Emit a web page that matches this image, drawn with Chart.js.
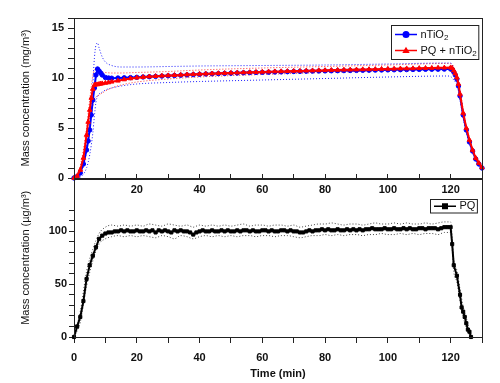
<!DOCTYPE html>
<html>
<head>
<meta charset="utf-8">
<script src="https://cdn.jsdelivr.net/npm/chart.js@4"></script>
<style>
  html, body { margin: 0; padding: 0; background: #fff; }
  .panel { position: absolute; left: 0; width: 500px; }
  #topPanel { top: 0; height: 200px; }
  #bottomPanel { top: 170px; height: 213px; }
</style>
</head>
<body>
<div class="panel" id="topPanel"><canvas id="topChart"></canvas></div>
<div class="panel" id="bottomPanel"><canvas id="bottomChart"></canvas></div>
<script>
// Top panel: nTiO2 and PQ + nTiO2 (mg/m3)
const TOP_TIME = [
  0, 1, 2, 3, 4,
  4.5, 5, 5.5, 6, 6.5, 7, 7.5, 8, 8.5, 9,
  10, 11, 12,
  14, 16, 18, 20, 22, 24, 26, 28, 30, 32,
  34, 36, 38, 40, 42, 44, 46, 48, 50, 52,
  54, 56, 58, 60, 62, 64, 66, 68, 70, 72,
  74, 76, 78, 80, 82, 84, 86, 88, 90, 92,
  94, 96, 98, 100, 102, 104, 106, 108, 110, 112,
  114, 116, 118, 120,
  120.5, 121, 121.5, 122, 122.5, 123, 124, 125, 126, 127, 128, 129, 130
];
const NTIO2 = [
  0, 0.15, 0.5, 1.4, 2.8,
  3.7, 4.8, 6.3, 7.8, 9.0, 10.3, 10.9, 10.7, 10.5, 10.3,
  10.05, 10.0, 9.98,
  10.0, 10.02, 10.04, 10.07, 10.1, 10.13, 10.16, 10.19, 10.22, 10.25,
  10.28, 10.31, 10.34, 10.37, 10.4, 10.42, 10.44, 10.46, 10.48, 10.5,
  10.52, 10.54, 10.56, 10.57, 10.58, 10.6, 10.61, 10.63, 10.65, 10.66,
  10.68, 10.69, 10.7, 10.71, 10.72, 10.73, 10.74, 10.75, 10.76, 10.77,
  10.78, 10.79, 10.8, 10.81, 10.82, 10.83, 10.84, 10.85, 10.86, 10.87,
  10.87, 10.88, 10.89, 10.9,
  10.85, 10.6, 10.3, 9.9, 9.2, 8.2, 6.3, 4.8, 3.6, 2.7, 1.9, 1.4, 1.0
];
const PQ_NTIO2 = [
  0, 0.2, 0.8, 2.0, 4.3,
  5.6, 6.8, 8.0, 8.9, 9.3, 9.35, 9.35, 9.4, 9.42, 9.45,
  9.5, 9.55, 9.62,
  9.72, 9.85, 9.95, 10.03, 10.09, 10.14, 10.18, 10.22, 10.25, 10.28,
  10.31, 10.34, 10.37, 10.4, 10.42, 10.44, 10.47, 10.49, 10.51, 10.53,
  10.55, 10.57, 10.59, 10.61, 10.63, 10.65, 10.66, 10.68, 10.7, 10.71,
  10.73, 10.74, 10.76, 10.77, 10.79, 10.8, 10.82, 10.83, 10.84, 10.86,
  10.87, 10.88, 10.9, 10.91, 10.92, 10.94, 10.95, 10.96, 10.98, 10.99,
  11.0, 11.02, 11.03, 11.05,
  11.0, 10.75, 10.45, 10.05, 9.4, 8.4, 6.5, 5.0, 3.8, 2.8, 2.0, 1.5, 1.05
];

// dotted spread lines around each mean
const BAND_TIME = [0, 2, 4, 5, 6, 6.5, 7, 7.5, 8, 9, 10, 12, 15, 20, 30, 40, 60, 80, 100, 119, 120, 121, 122, 123, 124, 125, 126, 127, 128, 129, 130];
const NTIO2_HI = [0, 0.6, 3.2, 5.8, 9.5, 12.0, 13.3, 13.5, 13.0, 12.1, 11.6, 11.25, 11.1, 11.1, 11.15, 11.2, 11.25, 11.3, 11.4, 11.5, 11.5, 11.0, 10.1, 8.5, 6.6, 5.0, 3.8, 2.8, 2.0, 1.5, 1.05];
const NTIO2_LO = [0, 0.1, 1.0, 2.3, 4.5, 6.2, 7.6, 8.2, 8.4, 8.6, 8.8, 9.0, 9.2, 9.4, 9.55, 9.65, 9.8, 9.95, 10.1, 10.2, 10.15, 9.8, 9.3, 7.8, 6.0, 4.6, 3.4, 2.5, 1.8, 1.3, 0.9];
const PQ_NTIO2_HI = [0, 1.2, 5.0, 7.8, 10.2, 10.8, 10.9, 10.8, 10.7, 10.6, 10.55, 10.5, 10.5, 10.55, 10.65, 10.8, 11.0, 11.15, 11.3, 11.45, 11.45, 11.1, 10.3, 8.8, 6.9, 5.2, 4.0, 3.0, 2.2, 1.6, 1.15];
const PQ_NTIO2_LO = [0, 0.3, 2.6, 5.0, 7.2, 7.9, 8.1, 8.2, 8.3, 8.5, 8.7, 9.0, 9.3, 9.6, 9.9, 10.1, 10.35, 10.55, 10.75, 10.9, 10.85, 10.4, 9.6, 8.0, 6.2, 4.7, 3.6, 2.6, 1.9, 1.35, 0.95];

// Bottom panel: PQ (ug/m3)
const PQ_TIME = [
  0, 1, 2, 3, 4, 5, 6, 7, 8, 9, 10,
  11, 12, 13, 14, 15, 16, 17, 18, 19, 20,
  21, 22, 23, 24, 25, 26, 27, 28, 29, 30,
  31, 32, 33, 34, 35, 36, 37, 38, 39, 40,
  41, 42, 43, 44, 45, 46, 47, 48, 49, 50,
  51, 52, 53, 54, 55, 56, 57, 58, 59, 60,
  61, 62, 63, 64, 65, 66, 67, 68, 69, 70,
  71, 72, 73, 74, 75, 76, 77, 78, 79, 80,
  81, 82, 83, 84, 85, 86, 87, 88, 89, 90,
  91, 92, 93, 94, 95, 96, 97, 98, 99, 100,
  101, 102, 103, 104, 105, 106, 107, 108, 109, 110,
  111, 112, 113, 114, 115, 116, 117, 118, 119, 120,
  120.5, 121, 122, 123, 123.5, 124, 124.5, 125, 125.5, 126, 126.5
];
const PQ = [
  0, 10, 19, 34, 55, 68, 77, 85, 93, 96, 98,
  99, 99, 100, 100, 101, 100, 101, 100, 100, 101,
  100, 100, 101, 100, 101, 99, 101, 100, 101, 100,
  99, 101, 100, 101, 100, 100, 99, 97, 99, 100,
  101, 100, 100, 101, 100, 100, 101, 100, 101, 100,
  100, 101, 100, 101, 101, 100, 101, 100, 100, 101,
  101, 100, 101, 100, 100, 101, 101, 100, 101, 100,
  100, 99, 99, 100, 101, 100, 101, 101, 102, 101,
  102, 101, 101, 102, 101, 101, 102, 101, 102, 101,
  102, 101, 102, 102, 103, 102, 102, 102, 103, 102,
  102, 103, 102, 102, 103, 102, 103, 102, 102, 103,
  103, 102, 103, 103, 103, 102, 103, 104, 104, 104,
  88, 68, 58, 40, 28, 24, 19, 13, 7, 5, 0
];
const PQ_BAND_TIME = [
  0, 2, 4, 6, 8, 10, 12, 14, 16, 18, 20,
  22, 24, 26, 28, 30, 32, 34, 36, 38, 40,
  42, 44, 46, 48, 50, 52, 54, 56, 58, 60,
  62, 64, 66, 68, 70, 72, 74, 76, 78, 80,
  82, 84, 86, 88, 90, 92, 94, 96, 98, 100,
  102, 104, 106, 108, 110, 112, 114, 116, 118, 120,
  121, 122, 123, 124, 125, 126, 127
];
const PQ_HI = [
  2, 24, 62, 83, 98, 104, 106, 105, 106, 105, 106,
  105, 107, 106, 105, 107, 106, 105, 106, 104, 106,
  105, 106, 105, 106, 105, 106, 107, 105, 106, 106,
  105, 106, 106, 105, 106, 104, 105, 106, 107, 107,
  108, 107, 106, 107, 107, 106, 107, 108, 107, 107,
  108, 107, 108, 107, 107, 108, 107, 108, 109, 109,
  73, 63, 45, 29, 18, 7, 1
];
const PQ_LO = [
  0, 14, 48, 72, 88, 93, 95, 96, 95, 96, 95,
  96, 95, 94, 96, 95, 93, 96, 95, 93, 95,
  96, 95, 96, 95, 96, 95, 96, 96, 95, 96,
  96, 95, 96, 96, 95, 94, 95, 96, 96, 97,
  96, 97, 96, 97, 97, 96, 97, 97, 98, 97,
  97, 98, 97, 98, 97, 98, 98, 97, 99, 99,
  62, 52, 34, 19, 9, 2, 0
];

const FONT = "'Liberation Sans', Arial, Helvetica, sans-serif";
const AXIS = "#222";
const TEXT = "#111";

const toPoints = (xs, ys) => xs.map((x, i) => ({ x, y: ys[i] }));

function meanLine(label, xs, ys, color, pointStyle, radius, order) {
  return {
    label,
    data: toPoints(xs, ys),
    borderColor: color,
    backgroundColor: color,
    borderWidth: 2,
    pointStyle,
    pointRadius: radius,
    pointBackgroundColor: color,
    pointBorderColor: color,
    pointBorderWidth: 1,
    tension: 0,
    clip: false,
    order
  };
}

function dottedLine(label, xs, ys, color) {
  return {
    label,
    data: toPoints(xs, ys),
    borderColor: color,
    borderWidth: 1,
    borderDash: [1, 2],
    pointRadius: 0,
    cubicInterpolationMode: "monotone",
    order: 5
  };
}

function drawMarker(ctx, style, x, y, r, color) {
  ctx.fillStyle = color;
  ctx.beginPath();
  if (style === "triangle") {
    ctx.moveTo(x, y - r * 1.1);
    ctx.lineTo(x + r * 1.05, y + r * 0.7);
    ctx.lineTo(x - r * 1.05, y + r * 0.7);
    ctx.closePath();
  } else if (style === "rect") {
    ctx.rect(x - r, y - r, r * 2, r * 2);
  } else {
    ctx.arc(x, y, r, 0, Math.PI * 2);
  }
  ctx.fill();
}

// the "2" in nTiO2 is drawn as a real subscript
function richWidth(ctx, text) {
  const parts = text.split("\u2082");
  let w = 0;
  parts.forEach((part, i) => {
    ctx.font = `11px ${FONT}`;
    w += ctx.measureText(part).width;
    if (i < parts.length - 1) {
      ctx.font = `8px ${FONT}`;
      w += ctx.measureText("2").width;
    }
  });
  return w;
}

function drawRich(ctx, text, x, y) {
  const parts = text.split("\u2082");
  ctx.fillStyle = TEXT;
  ctx.textBaseline = "middle";
  ctx.textAlign = "left";
  parts.forEach((part, i) => {
    ctx.font = `11px ${FONT}`;
    ctx.fillText(part, x, y);
    x += ctx.measureText(part).width;
    if (i < parts.length - 1) {
      ctx.font = `8px ${FONT}`;
      ctx.fillText("2", x, y + 3.5);
      x += ctx.measureText("2").width;
    }
  });
}

const framePlugin = {
  id: "frame",
  afterDraw(chart) {
    const { ctx, chartArea } = chart;
    ctx.save();
    ctx.strokeStyle = AXIS;
    ctx.lineWidth = 1;
    ctx.strokeRect(
      Math.round(chartArea.left) + 0.5,
      Math.round(chartArea.top) + 0.5,
      Math.round(chartArea.right - chartArea.left),
      Math.round(chartArea.bottom - chartArea.top)
    );
    ctx.restore();
  }
};

const boxLegend = {
  id: "boxLegend",
  afterDraw(chart, args, opts) {
    if (!opts.labels) return;
    const { ctx, chartArea } = chart;
    const items = opts.labels.map((label) => chart.data.datasets.find((d) => d.label === label));
    ctx.save();
    const lineLen = 22;
    const textW = Math.max(...items.map((d) => richWidth(ctx, d.label)));
    const boxW = 3.5 + lineLen + 3.5 + textW + 2;
    const boxH = items.length * opts.rowHeight + 2;
    const x0 = Math.round(chartArea.right - opts.right - boxW) + 0.5;
    const y0 = Math.round(chartArea.top + opts.top) + 0.5;
    ctx.fillStyle = "#fff";
    ctx.fillRect(x0, y0, boxW, boxH);
    ctx.strokeStyle = AXIS;
    ctx.lineWidth = 1;
    ctx.strokeRect(x0, y0, boxW, boxH);
    items.forEach((d, i) => {
      const cy = y0 + 1 + opts.rowHeight * (i + 0.5);
      const lx = x0 + 3.5;
      ctx.strokeStyle = d.borderColor;
      ctx.lineWidth = 1.5;
      ctx.beginPath();
      ctx.moveTo(lx, cy);
      ctx.lineTo(lx + lineLen, cy);
      ctx.stroke();
      drawMarker(ctx, d.pointStyle, lx + lineLen / 2, cy, opts.markerSize, d.borderColor);
      drawRich(ctx, d.label, lx + lineLen + 3.5, cy);
    });
    ctx.restore();
  }
};

const tickFont = { family: FONT, size: 11, weight: "bold" };
const titleFont = { family: FONT, size: 11 };

new Chart(document.getElementById("topChart"), {
  type: "line",
  data: {
    datasets: [
      meanLine("PQ + nTiO\u2082", TOP_TIME, PQ_NTIO2, "#ff0000", "triangle", 2.6, 0),
      meanLine("nTiO\u2082", TOP_TIME, NTIO2, "#0000ff", "circle", 2.2, 1),
      dottedLine("nTiO2 high", BAND_TIME, NTIO2_HI, "#1a1aff"),
      dottedLine("nTiO2 low", BAND_TIME, NTIO2_LO, "#1a1aff"),
      dottedLine("PQ + nTiO2 high", BAND_TIME, PQ_NTIO2_HI, "#ff3030"),
      dottedLine("PQ + nTiO2 low", BAND_TIME, PQ_NTIO2_LO, "#ff3030")
    ]
  },
  options: {
    responsive: true,
    maintainAspectRatio: false,
    animation: false,
    events: [],
    layout: { padding: { top: 18, right: 18, bottom: 0, left: 0 } },
    plugins: {
      legend: { display: false },
      tooltip: { enabled: false },
      boxLegend: { labels: ["nTiO\u2082", "PQ + nTiO\u2082"], rowHeight: 16, right: 4, top: 7, markerSize: 3.5 }
    },
    scales: {
      x: {
        type: "linear",
        min: 0,
        max: 130,
        border: { color: AXIS },
        // ticks on this axis point up into the plot
        grid: { drawOnChartArea: false, tickLength: -4, tickColor: AXIS },
        ticks: {
          stepSize: 10,
          autoSkip: false,
          maxRotation: 0,
          padding: 9,
          color: TEXT,
          font: tickFont,
          callback: (v) => (v > 0 && v % 20 === 0 ? v : "")
        },
        afterFit: (scale) => { scale.height = 22; }
      },
      y: {
        min: 0,
        max: 16,
        border: { color: AXIS },
        grid: { drawOnChartArea: false, tickLength: 6, tickColor: AXIS },
        ticks: {
          stepSize: 1,
          autoSkip: false,
          padding: 4,
          color: TEXT,
          font: tickFont,
          callback: (v) => (v % 5 === 0 && v <= 15 ? v : "")
        },
        title: {
          display: true,
          text: "Mass concentration (mg/m\u00b3)",
          color: TEXT,
          font: titleFont,
          padding: { top: 19, bottom: 0 }
        },
        afterFit: (scale) => { scale.width = 74; }
      }
    }
  },
  plugins: [framePlugin, boxLegend]
});

new Chart(document.getElementById("bottomChart"), {
  type: "line",
  data: {
    datasets: [
      meanLine("PQ", PQ_TIME, PQ, "#000000", "rect", 2.2, 0),
      dottedLine("PQ high", PQ_BAND_TIME, PQ_HI, "#444"),
      dottedLine("PQ low", PQ_BAND_TIME, PQ_LO, "#444")
    ]
  },
  options: {
    responsive: true,
    maintainAspectRatio: false,
    animation: false,
    events: [],
    layout: { padding: { top: 8, right: 18, bottom: 0, left: 0 } },
    plugins: {
      legend: { display: false },
      tooltip: { enabled: false },
      boxLegend: { labels: ["PQ"], rowHeight: 11.5, right: 5, top: 20, markerSize: 3 }
    },
    scales: {
      x: {
        type: "linear",
        min: 0,
        max: 130,
        border: { color: AXIS },
        grid: { drawOnChartArea: false, tickLength: 6, tickColor: AXIS },
        ticks: {
          stepSize: 10,
          autoSkip: false,
          maxRotation: 0,
          padding: 8,
          color: TEXT,
          font: tickFont,
          callback: (v) => (v % 20 === 0 ? v : "")
        },
        title: {
          display: true,
          text: "Time (min)",
          color: TEXT,
          font: { family: FONT, size: 11, weight: "bold" },
          padding: { top: 0, bottom: 2.5 }
        },
        afterFit: (scale) => { scale.height = 46; }
      },
      y: {
        min: 0,
        max: 150,
        border: { color: AXIS },
        grid: {
          drawOnChartArea: false,
          tickLength: 5,
          tickColor: (ctx) => (ctx.tick && ctx.tick.value > 120 ? "rgba(0,0,0,0)" : AXIS)
        },
        ticks: {
          stepSize: 10,
          autoSkip: false,
          padding: 2,
          color: TEXT,
          font: tickFont,
          callback: (v) => (v % 50 === 0 && v <= 100 ? v : "")
        },
        title: {
          display: true,
          text: "Mass concentration (\u00b5g/m\u00b3)",
          color: TEXT,
          font: titleFont,
          padding: { top: 19, bottom: 0 }
        },
        afterFit: (scale) => { scale.width = 74; }
      }
    }
  },
  plugins: [framePlugin, boxLegend]
});
</script>
</body>
</html>
